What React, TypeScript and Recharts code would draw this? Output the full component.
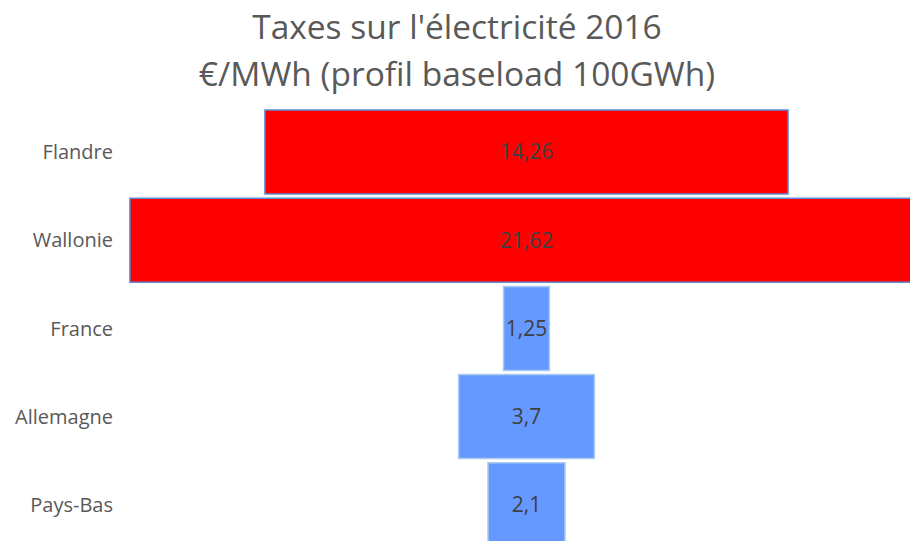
import { BarChart, Bar, XAxis, YAxis, Cell, LabelList } from "recharts";

const countries = ["Flandre", "Wallonie", "France", "Allemagne", "Pays-Bas"];
const taxes = [14.26, 21.62, 1.25, 3.7, 2.1];
const fills = ["#FF0000", "#FF0000", "#6699FF", "#6699FF", "#6699FF"];
const strokes = ["#5B8FD6", "#5B8FD6", "#A9CBEF", "#A9CBEF", "#A9CBEF"];

// funnel: each bar is centred on 0
const data = countries.map((name, i) => ({
  name,
  range: [-taxes[i] / 2, taxes[i] / 2],
  label: String(taxes[i]).replace(".", ","),
}));

const font = "'Open Sans', 'Noto Sans', sans-serif";

export default function App() {
  return (
    <div
      style={{
        position: "absolute",
        left: 0,
        top: 0,
        width: 910,
        height: 541,
        overflow: "hidden",
        background: "#fff",
        fontFamily: font,
      }}
    >
      <div
        style={{
          position: "absolute",
          left: 0,
          width: 914,
          top: 3,
          textAlign: "center",
          fontSize: 33.5,
          lineHeight: "47px",
          color: "#595959",
        }}
      >
        Taxes sur l'électricité 2016
        <br />
        €/MWh (profil baseload 100GWh)
      </div>
      <BarChart
        width={933}
        height={549}
        layout="vertical"
        data={data}
        margin={{ top: 108, right: 0, bottom: 0, left: 0 }}
        barCategoryGap={2}
      >
        <XAxis type="number" hide domain={[-11.08, 11.08]} allowDataOverflow />
        <YAxis
          type="category"
          dataKey="name"
          width={120}
          axisLine={false}
          tickLine={false}
          tickSize={0}
          tickMargin={7}
          tick={{ fontSize: 20, fill: "#595959", fontFamily: font }}
        />
        <Bar dataKey="range" isAnimationActive={false} strokeWidth={1.5}>
          {data.map((d, i) => (
            <Cell key={d.name} fill={fills[i]} stroke={strokes[i]} />
          ))}
          <LabelList
            dataKey="label"
            position="center"
            style={{ fontSize: 21, fill: "#404040", fontFamily: font }}
          />
        </Bar>
      </BarChart>
    </div>
  );
}
